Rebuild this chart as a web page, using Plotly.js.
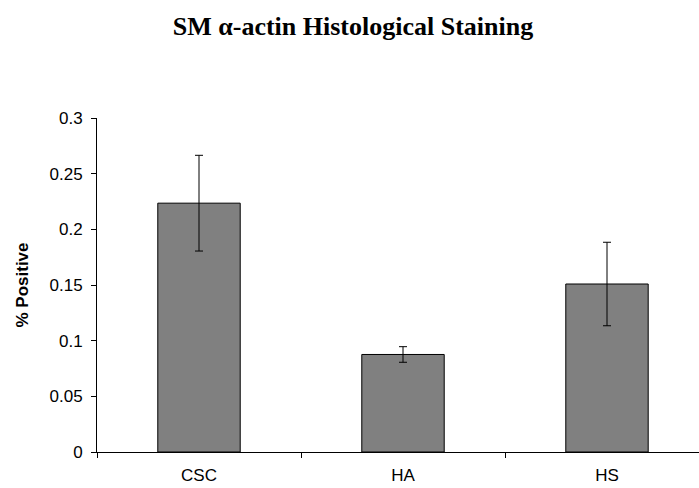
<!DOCTYPE html>
<html>
<head>
<meta charset="utf-8">
<script src="https://cdn.plot.ly/plotly-3.0.1.min.js"></script>
<style>html,body{margin:0;padding:0;background:#fff;}#chart{width:699px;height:488px;}</style>
</head>
<body>
<div id="chart"></div>
<script>
const categories = ["CSC", "HA", "HS"];
const values = [0.2235, 0.0876, 0.1509];
const errors = [0.043, 0.007, 0.0375];
const yTickVals = [0, 0.05, 0.1, 0.15, 0.2, 0.25, 0.3];
const yTickText = ["0", "0.05", "0.1", "0.15", "0.2", "0.25", "0.3"];

const trace = {
  type: "bar",
  x: categories,
  y: values,
  marker: {color: "#808080", line: {color: "#000000", width: 1}},
  error_y: {type: "data", array: errors, visible: true, color: "#000000", thickness: 1, width: 4}
};

const layout = {
  width: 699, height: 488,
  margin: {l: 97, r: 0, t: 118, b: 36, pad: 0},
  paper_bgcolor: "#ffffff", plot_bgcolor: "#ffffff",
  bargap: 0.596,
  showlegend: false,
  title: {
    text: "<b>SM α-actin Histological Staining</b>",
    font: {family: "Liberation Serif, Times New Roman, serif", size: 26, color: "#000"},
    x: 0.505, xanchor: "center", xref: "container", y: 0.947, yanchor: "middle", yref: "container"
  },
  xaxis: {
    type: "category",
    range: [-0.5, 2.451],
    tickson: "boundaries",
    ticks: "outside", ticklen: 5, tickcolor: "#000", tickwidth: 1,
    ticklabelstandoff: 8,
    showline: true, linecolor: "#000", linewidth: 1,
    showgrid: false, zeroline: false,
    tickfont: {family: "Liberation Sans, Arial, sans-serif", size: 17, color: "#000"}
  },
  yaxis: {
    range: [0, 0.3],
    tickmode: "array", tickvals: yTickVals, ticktext: yTickText,
    ticks: "outside", ticklen: 5, tickcolor: "#000", tickwidth: 1,
    ticklabelstandoff: 5,
    showline: true, linecolor: "#000", linewidth: 1,
    showgrid: false, zeroline: false,
    tickfont: {family: "Liberation Sans, Arial, sans-serif", size: 17, color: "#000"},
    title: {text: "<b>% Positive</b>", font: {family: "Liberation Sans, Arial, sans-serif", size: 17, color: "#000"}, standoff: 16}
  }
};

Plotly.newPlot("chart", [trace], layout, {displayModeBar: false, staticPlot: true});
</script>
</body>
</html>
